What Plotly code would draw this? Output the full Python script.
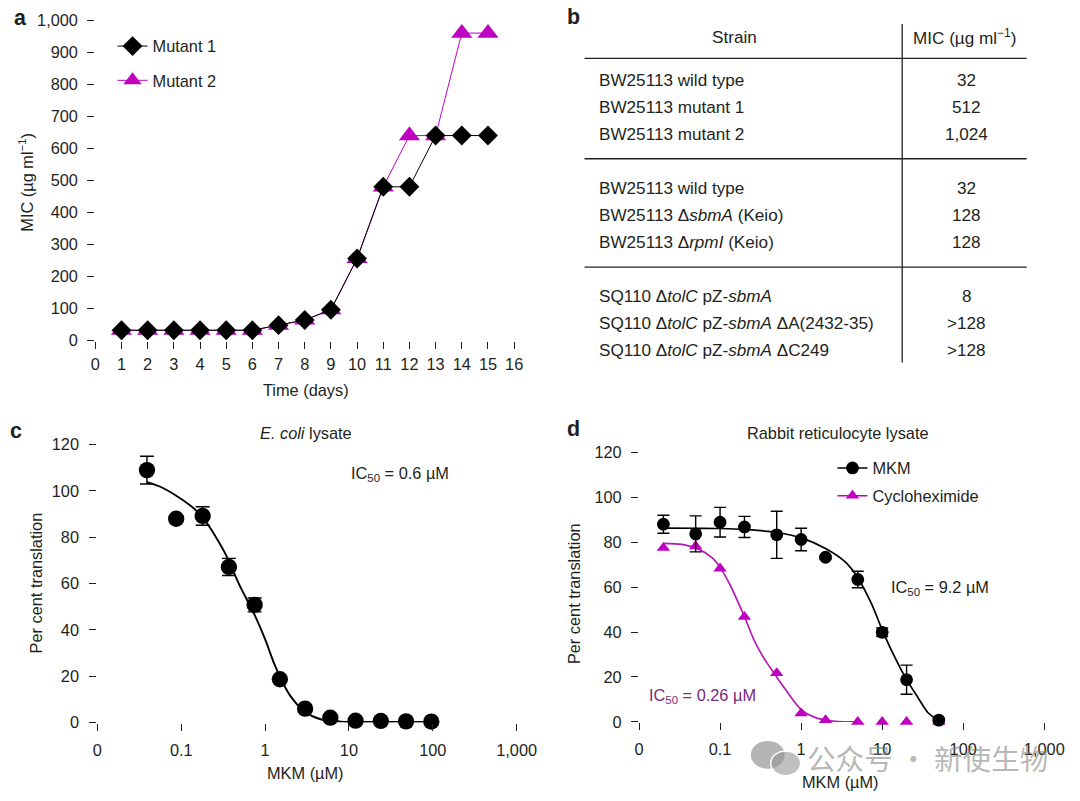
import plotly.graph_objects as go

W, H = 1080, 801
INK = "#231f20"
MAG = "#c000c0"
FONT = "Liberation Sans, Arial, Helvetica, sans-serif"

# ---------------- Panel a data ----------------
days = list(range(1, 16))
mutant1_mic = [32, 32, 32, 32, 32, 32, 48, 64, 96, 256, 480, 480, 640, 640, 640]
mutant2_mic = [32, 32, 32, 32, 32, 32, 48, 64, 96, 256, 480, 640, 640, 960, 960]
day_ticks = list(range(0, 17))
mic_ticks = list(range(0, 1001, 100))

# ---------------- Panel b data ----------------
table_header = ["Strain", "MIC (µg ml<sup>−1</sup>)"]
strain_names = [
    "BW25113 wild type",
    "BW25113 mutant 1",
    "BW25113 mutant 2",
    "BW25113 wild type",
    "BW25113 Δ<i>sbmA</i> (Keio)",
    "BW25113 Δ<i>rpmI</i> (Keio)",
    "SQ110 Δ<i>tolC</i> pZ-<i>sbmA</i>",
    "SQ110 Δ<i>tolC</i> pZ-<i>sbmA</i> ΔA(2432-35)",
    "SQ110 Δ<i>tolC</i> pZ-<i>sbmA</i> ΔC249",
]
strain_mic = ["32", "512", "1,024", "32", "128", "128", "8", ">128", ">128"]
strain_group = [0, 0, 0, 1, 1, 1, 2, 2, 2]

# ---------------- Panel c data ----------------
ecoli_conc = [0.039, 0.087, 0.18, 0.37, 0.75, 1.5, 3.0, 6.0, 12, 24, 48, 96]
ecoli_pct = [109, 88, 89.2, 67.2, 50.8, 18.7, 6.0, 2.1, 0.8, 0.7, 0.5, 0.4]
ecoli_err = [6, 0.8, 4, 3.7, 3, 0.6, 0.5, 0.4, 0.3, 0.3, 0.3, 0.3]
ecoli_fit_conc = [0.039, 0.058, 0.091, 0.144, 0.2, 0.25, 0.34, 0.5, 0.75, 1.0,
                  1.28, 1.55, 2.0, 2.9, 4.6, 7.9, 18, 96]
ecoli_fit_pct = [103.8, 101.6, 97.5, 92.2, 86.3, 81, 72.5, 59, 46.5, 36,
                 25.5, 18.7, 11.5, 5, 1.4, 0.4, 0.3, 0.3]

# ---------------- Panel d data ----------------
rrl_conc = [0.02, 0.05, 0.1, 0.2, 0.5, 1, 2, 5, 10, 20, 50]
mkm_pct = [88, 83.7, 88.9, 86.8, 83.3, 81.2, 73.3, 63.4, 39.9, 18.8, 0.8]
mkm_err = [4, 8, 6.6, 4.7, 10.5, 5, 0.8, 3.7, 1.9, 6.5, 0.5]
chx_pct = [77.5, 78.2, 68.3, 46.8, 21.7, 3.8, 0.8, 0, 0, 0, 0]
mkm_fit_conc = [0.02, 0.05, 0.1, 0.2, 0.5, 1, 2, 3.5, 5, 7.4, 10, 14.4, 20, 27.7, 36.8, 50]
mkm_fit_pct = [86.3, 86.2, 86.1, 85.7, 84.3, 81.9, 77.2, 71.2, 64.2, 52.5, 41,
               28.6, 18.8, 10.8, 4.1, 0.6]
chx_fit_conc = [0.02, 0.034, 0.055, 0.08, 0.1, 0.135, 0.2, 0.27, 0.36, 0.5, 0.64,
                1.0, 1.5, 2.6, 5]
chx_fit_pct = [79.5, 79, 76.8, 73, 68.8, 60.5, 46.8, 35.5, 27.5, 20, 14.5,
               5.5, 1.9, 0.3, 0]

log_tickvals = [0.01, 0.1, 1, 10, 100, 1000]
log_ticktext = ["0", "0.1", "1", "10", "100", "1,000"]

# The photographed page comes out slightly shrunk/offset; compensate so that
# positions given below (reference-image pixels) land where intended.
SX, OX, SY, OY = 0.981, 3.0, 0.979, 7.0
K = 1 / 0.98  # size compensation


def px_x(p):
    return ((p - OX) / SX) / W


def px_y(p):
    return 1 - ((p - OY) / SY) / H


def fs(v):
    return round(v * K, 2)


fig = go.Figure()

# ---- panel a traces ----
fig.add_trace(go.Scatter(
    x=days, y=mutant1_mic, mode="lines+markers", name="Mutant 1",
    line=dict(color="black", width=1),
    marker=dict(symbol="diamond", size=fs(15), color="black"),
    xaxis="x", yaxis="y", legend="legend", legendgroup="m1", legendrank=1,
    zorder=2, cliponaxis=False))
fig.add_trace(go.Scatter(
    x=days, y=mutant2_mic, mode="lines+markers", name="Mutant 2",
    line=dict(color=MAG, width=1),
    marker=dict(symbol="triangle-up", size=fs(18), color=MAG),
    xaxis="x", yaxis="y", legend="legend", legendgroup="m2", legendrank=2,
    zorder=1, cliponaxis=False))

# ---- panel c traces ----
fig.add_trace(go.Scatter(
    x=ecoli_fit_conc, y=ecoli_fit_pct, mode="lines",
    line=dict(color="black", width=1.9, shape="spline", smoothing=0.8),
    xaxis="x2", yaxis="y2", showlegend=False, cliponaxis=False))
fig.add_trace(go.Scatter(
    x=ecoli_conc, y=ecoli_pct, mode="markers",
    marker=dict(symbol="circle", size=fs(16), color="black"),
    error_y=dict(type="data", array=ecoli_err, color="black", thickness=1.4, width=7),
    xaxis="x2", yaxis="y2", showlegend=False, cliponaxis=False))

# ---- panel d traces ----
fig.add_trace(go.Scatter(
    x=chx_fit_conc, y=chx_fit_pct, mode="lines",
    line=dict(color="#b41cb4", width=1.7, shape="spline", smoothing=0.8),
    xaxis="x3", yaxis="y3", showlegend=False, cliponaxis=False))
fig.add_trace(go.Scatter(
    x=mkm_fit_conc, y=mkm_fit_pct, mode="lines",
    line=dict(color="black", width=1.7, shape="spline", smoothing=0.8),
    xaxis="x3", yaxis="y3", showlegend=False, cliponaxis=False))
fig.add_trace(go.Scatter(
    x=rrl_conc, y=chx_pct, mode="markers",
    marker=dict(symbol="triangle-up", size=fs(11.5), color=MAG),
    xaxis="x3", yaxis="y3", showlegend=False, cliponaxis=False))
fig.add_trace(go.Scatter(
    x=rrl_conc, y=mkm_pct, mode="markers",
    marker=dict(symbol="circle", size=fs(12.5), color="black"),
    error_y=dict(type="data", array=mkm_err, color="black", thickness=1.4, width=6),
    xaxis="x3", yaxis="y3", showlegend=False, cliponaxis=False))
# legend proxies for panel d
fig.add_trace(go.Scatter(
    x=[None], y=[None], mode="lines+markers", name="MKM",
    line=dict(color="black", width=1.4), marker=dict(symbol="circle", size=fs(12.5), color="black"),
    xaxis="x3", yaxis="y3", legend="legend2", legendgroup="mkm", legendrank=1))
fig.add_trace(go.Scatter(
    x=[None], y=[None], mode="lines+markers", name="Cycloheximide",
    line=dict(color=MAG, width=1.4), marker=dict(symbol="triangle-up", size=fs(11.5), color=MAG),
    xaxis="x3", yaxis="y3", legend="legend2", legendgroup="chx", legendrank=2))


def axis_style(standoff):
    return dict(
        showline=True, linecolor=INK, linewidth=1.2, ticks="outside", ticklen=7,
        tickwidth=1.2, tickcolor=INK, showgrid=False, zeroline=False,
        tickfont=dict(family=FONT, size=fs(16), color=INK), ticklabelstandoff=standoff,
    )


fig.update_layout(
    width=W, height=H, margin=dict(l=0, r=0, t=0, b=0),
    paper_bgcolor="white", plot_bgcolor="white",
    font=dict(family=FONT, size=fs(16), color=INK),
    xaxis=dict(domain=[px_x(93.7), px_x(514.3)], range=[0, 16], tickvals=day_ticks,
               anchor="y", **axis_style(2)),
    yaxis=dict(domain=[px_y(339), px_y(18.3)], range=[0, 1000], tickvals=mic_ticks,
               tickformat=",d", anchor="x", **axis_style(6)),
    xaxis2=dict(domain=[px_x(95.8), px_x(516.8)], type="log", range=[-2, 3],
                tickvals=log_tickvals, ticktext=log_ticktext, anchor="y2", **axis_style(6)),
    yaxis2=dict(domain=[px_y(721.6), px_y(443.3)], range=[0, 120], dtick=20,
                anchor="x2", **axis_style(7)),
    xaxis3=dict(domain=[px_x(639.7), px_x(1046.7)], type="log", range=[-2, 3],
                tickvals=log_tickvals, ticktext=log_ticktext, anchor="y3", **axis_style(5)),
    yaxis3=dict(domain=[px_y(721), px_y(451)], range=[0, 120], dtick=20,
                anchor="x3", **axis_style(6)),
    legend=dict(x=px_x(111), y=px_y(27), xanchor="left", yanchor="top",
                bgcolor="rgba(0,0,0,0)", traceorder="grouped", tracegroupgap=10,
                font=dict(family=FONT, size=fs(16), color=INK)),
    legend2=dict(x=px_x(834), y=px_y(449.5), xanchor="left", yanchor="top",
                 bgcolor="rgba(0,0,0,0)", traceorder="grouped", tracegroupgap=3.5,
                 font=dict(family=FONT, size=fs(16), color=INK)),
)

ann = []


def add_text(text, x, y, size=16, color=INK, xanchor="center", yanchor="middle",
             angle=0, bold=False, family=FONT):
    ann.append(dict(
        text=("<b>%s</b>" % text) if bold else text, x=px_x(x), y=px_y(y),
        xref="paper", yref="paper", xanchor=xanchor, yanchor=yanchor,
        showarrow=False, textangle=angle,
        font=dict(family=family, size=fs(size), color=color)))


# panel letters
add_text("a", 18.5, 16, size=21, bold=True)
add_text("b", 574, 15, size=21, bold=True)
add_text("c", 14, 430, size=21, bold=True)
add_text("d", 574, 428, size=21, bold=True)

# axis titles
add_text("MIC (µg ml<sup>−1</sup>)", 24, 180, angle=-90)
add_text("Time (days)", 305, 389)
add_text("MKM (µM)", 305, 771.7)
add_text("MKM (µM)", 842, 781)
add_text("Per cent translation", 34.4, 582, angle=-90)
add_text("Per cent translation", 574.4, 592, angle=-90)

# panel titles and IC50 labels
add_text("<i>E. coli</i> lysate", 305, 431.7)
add_text("Rabbit reticulocyte lysate", 840, 431.7)
add_text("IC<sub>50</sub> = 0.6 µM", 348, 473, xanchor="left")
add_text("IC<sub>50</sub> = 9.2 µM", 891, 587, xanchor="left")
add_text("IC<sub>50</sub> = 0.26 µM", 648, 695, xanchor="left", color="#7a2a7a")

# ---- panel b table ----
TABLE_SIZE = 16.8
add_text(table_header[0], 736, 35, size=TABLE_SIZE)
add_text(table_header[1], 967, 35, size=TABLE_SIZE)
group_top = [78.5, 186.5, 294.5]
row_step = 26.8
row_in_group = [0, 0, 0]
for name, mic, g in zip(strain_names, strain_mic, strain_group):
    yy = group_top[g] + row_step * row_in_group[g]
    row_in_group[g] += 1
    add_text(name, 597.5, yy, size=TABLE_SIZE, xanchor="left")
    add_text(mic, 969, yy, size=TABLE_SIZE)

shapes = []
for ly in [56.5, 157, 265.5]:
    shapes.append(dict(type="line", xref="paper", yref="paper",
                       x0=px_x(585), x1=px_x(1029), y0=px_y(ly), y1=px_y(ly),
                       line=dict(color=INK, width=1.3)))
shapes.append(dict(type="line", xref="paper", yref="paper",
                   x0=px_x(904), x1=px_x(904), y0=px_y(22), y1=px_y(361),
                   line=dict(color=INK, width=1.3)))

# ---- watermark ----
WM = "rgba(120,120,120,0.55)"
shapes.append(dict(type="circle", xref="paper", yref="paper",
                   x0=px_x(752), x1=px_x(786), y0=px_y(768), y1=px_y(740),
                   fillcolor=WM, line=dict(width=0)))
shapes.append(dict(type="circle", xref="paper", yref="paper",
                   x0=px_x(772), x1=px_x(802), y0=px_y(775), y1=px_y(750),
                   fillcolor="rgba(150,150,150,0.6)", line=dict(color="white", width=1.5)))
add_text("公众号 · 新使生物", 806, 757, size=28, color=WM, xanchor="left",
         family="Noto Sans CJK SC")

fig.update_layout(annotations=ann, shapes=shapes)

fig.write_html("out.html")
